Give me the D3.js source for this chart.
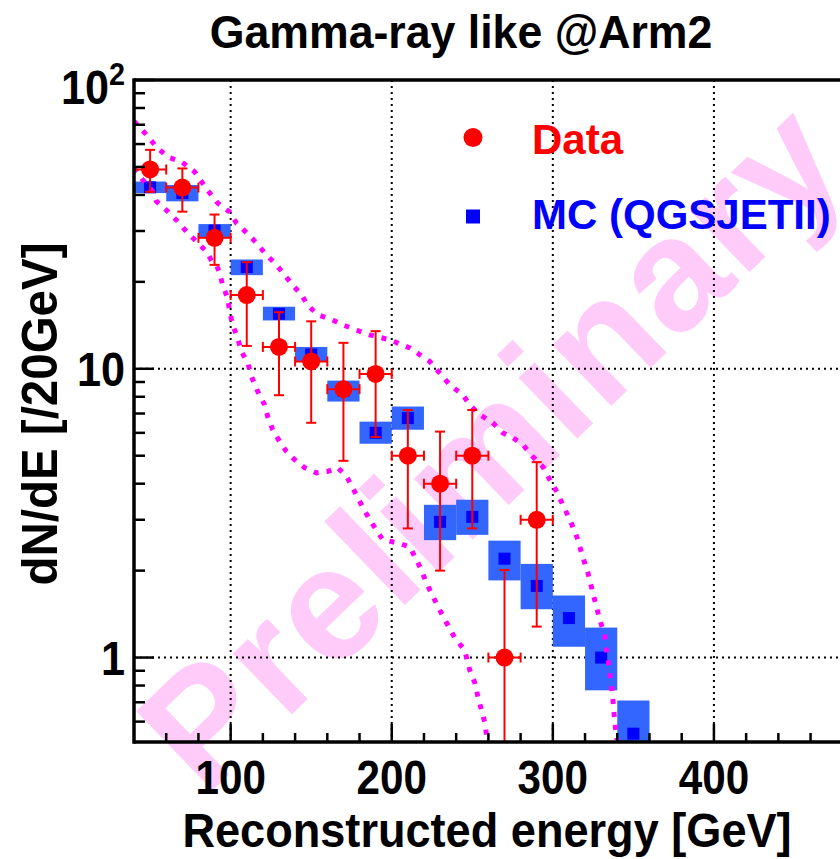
<!DOCTYPE html>
<html>
<head>
<meta charset="utf-8">
<script src="https://cdn.jsdelivr.net/npm/d3@7"></script>
<style>
html,body{margin:0;padding:0;background:#fff;}
text{font-family:"Liberation Sans",Arial,Helvetica,sans-serif;font-weight:bold;}
</style>
</head>
<body>
<script>
// ---------- data ----------
const dataE   = [50,70,90,110,130,150,170,190,210,230,250,270,290];
const dataVal = [49,42.4,28.4,18.0,11.9,10.6,8.5,9.6,5.0,4.0,5.0,1.0,3.0];
const dataHi  = [57.3,49.4,34.2,23.4,15.7,14.6,12.3,13.5,7.2,6.06,7.2,2.01,4.75];
const dataLo  = [41,35,22.9,12.0,8.1,6.5,4.8,5.8,2.8,2.0,2.8,0.3,1.28];

const mcE   = [50,70,90,110,130,150,170,190,210,230,250,270,290,310,330,350];
const mcVal = [42.5,40.6,30.1,22.5,15.5,11.2,8.4,6.0,6.75,2.95,3.07,2.2,1.77,1.37,1.0,0.545];
const mcHi  = [44.5,43.3,31.7,23.9,16.4,11.9,9.1,6.56,7.4,3.38,3.52,2.54,2.11,1.64,1.27,0.71];
const mcLo  = [40.6,38.0,28.6,21.1,14.7,10.6,7.7,5.5,6.15,2.55,2.66,1.85,1.47,1.09,0.77,0.42];

const upperE = [40,46.6,53.9,60.9,69.6,77.6,85.7,91.9,99.4,103.5,109.8,116.0,122.2,128.4,132.3,138.5,144.1,147.8,154.0,162.7,169.6,178.3,186.3,198.8,211.2,223.6,236.0,244.1,248.4,254.7,262.7,268.9,275.2,281.4,287.6,293.8,298.1,302.5,306.2,310.6,314.9,318.6,321.7,324.8,328.0,332.3,333.5,335.4,337.3,338.5,339.8];
const upperV = [72,65.7,58.7,54.1,52.1,48.1,41.5,37.5,34.9,32.0,29.6,27.3,24.8,22.9,21.5,19.5,18.0,16.6,15.4,14.8,14.2,13.6,13.1,12.6,11.8,10.6,8.8,8.13,7.5,6.93,6.5,6.0,5.77,5.46,4.96,4.58,4.13,3.75,3.38,3.0,2.62,2.23,1.97,1.68,1.43,1.18,1.04,0.885,0.714,0.594,0.519];

const lowerE = [40,45.3,51.6,53.9,60.9,67.1,72.5,78.7,84.9,88.8,91.1,93.2,95.0,98.1,99.4,101.2,104.3,106.6,110.6,112.9,116.8,121.1,123.0,126.1,130.4,134.6,139.8,146.0,153.2,160.2,166.5,171.9,175.8,178.9,186.3,194.4,202.9,211.2,215.3,218.4,221.6,225.5,229.8,234.0,239.1,245.3,248.4,251.6,253.4,255.7,257.8,258.8];
const lowerV = [49.6,45.2,41.1,38.0,35.1,32.4,29.9,27.6,25.5,23.3,22.9,21.5,19.5,17.6,15.8,14.2,12.8,11.5,10.5,9.4,8.35,7.5,6.84,6.15,5.6,5.17,4.84,4.54,4.36,4.41,4.54,4.24,3.87,3.57,3.0,2.56,2.50,2.42,2.18,2.01,1.81,1.63,1.46,1.32,1.17,1.06,0.906,0.817,0.733,0.659,0.594,0.54];

const xTicks = [100,200,300,400];
const yTicks = [1,10,100];
const titleText = "Gamma-ray like @Arm2";
const xTitle = "Reconstructed energy [GeV]";
const yTitle = "dN/dE [/20GeV]";
const legendLabels = ["Data","MC (QGSJETII)"];
const binHalf = 10;

// ---------- layout ----------
const W = 840, H = 859;
const L = 134, R = 875, T = 80, B = 742;
const svg = d3.select("body").append("svg").attr("width",W).attr("height",H);

const x = d3.scaleLinear().domain([40,500]).range([L,R]);
const y = d3.scaleLog().domain([0.51,100]).range([B,T]);

svg.append("defs").append("clipPath").attr("id","plotclip")
  .append("rect").attr("x",L).attr("y",T).attr("width",R-L).attr("height",B-T);

// watermark
svg.append("text")
  .attr("transform","translate(205,798) rotate(-44)")
  .attr("font-size",160).attr("fill","#ffccfa")
  .attr("textLength",900).attr("lengthAdjust","spacing")
  .text("Preliminary");

const plot = svg.append("g").attr("clip-path","url(#plotclip)");

// grid
plot.selectAll(".gx").data(xTicks).join("line")
  .attr("x1",d=>x(d)).attr("x2",d=>x(d)).attr("y1",T).attr("y2",B)
  .attr("stroke","#000").attr("stroke-width",2).attr("stroke-dasharray","2,4");
plot.selectAll(".gy").data(yTicks.filter(d=>d<100)).join("line")
  .attr("x1",L).attr("x2",R).attr("y1",d=>y(d)).attr("y2",d=>y(d))
  .attr("stroke","#000").attr("stroke-width",2).attr("stroke-dasharray","2,4");

// MC boxes
const mc = mcE.map((e,i)=>({e,v:mcVal[i],hi:mcHi[i],lo:mcLo[i]}));
plot.selectAll(".mcbox").data(mc).join("rect")
  .attr("x",d=>x(d.e-binHalf)).attr("width",d=>x(d.e+binHalf)-x(d.e-binHalf))
  .attr("y",d=>y(d.hi)).attr("height",d=>y(d.lo)-y(d.hi))
  .attr("fill","#3366ff");
plot.selectAll(".mcm").data(mc).join("rect")
  .attr("x",d=>x(d.e)-6).attr("y",d=>y(d.v)-6).attr("width",12).attr("height",12)
  .attr("fill","#0000ff");

// envelope curves
const line = d3.line().x(d=>x(d[0])).y(d=>y(d[1]));
[[upperE,upperV],[lowerE,lowerV]].forEach(([E,V])=>{
  plot.append("path").datum(E.map((e,i)=>[e,V[i]]))
    .attr("d",line).attr("fill","none").attr("stroke","#ff00ff")
    .attr("stroke-width",5).attr("stroke-dasharray","5,8");
});

// data
const dat = dataE.map((e,i)=>({e,v:dataVal[i],hi:dataHi[i],lo:dataLo[i]}));
const dg = plot.selectAll(".dp").data(dat).join("g").attr("stroke","#ff0000").attr("stroke-width",2);
dg.append("line").attr("x1",d=>x(d.e)).attr("x2",d=>x(d.e)).attr("y1",d=>y(d.hi)).attr("y2",d=>y(Math.max(d.lo,0.4)));
dg.append("line").attr("x1",d=>x(d.e-binHalf)).attr("x2",d=>x(d.e+binHalf)).attr("y1",d=>y(d.v)).attr("y2",d=>y(d.v));
dg.append("line").attr("x1",d=>x(d.e)-5).attr("x2",d=>x(d.e)+5).attr("y1",d=>y(d.hi)).attr("y2",d=>y(d.hi));
dg.append("line").attr("x1",d=>x(d.e)-5).attr("x2",d=>x(d.e)+5).attr("y1",d=>y(Math.max(d.lo,0.4))).attr("y2",d=>y(Math.max(d.lo,0.4)));
dg.append("line").attr("x1",d=>x(d.e-binHalf)).attr("x2",d=>x(d.e-binHalf)).attr("y1",d=>y(d.v)-5).attr("y2",d=>y(d.v)+5);
dg.append("line").attr("x1",d=>x(d.e+binHalf)).attr("x2",d=>x(d.e+binHalf)).attr("y1",d=>y(d.v)-5).attr("y2",d=>y(d.v)+5);
dg.append("circle").attr("cx",d=>x(d.e)).attr("cy",d=>y(d.v)).attr("r",9).attr("fill","#ff0000").attr("stroke","none");

// axes ticks
const xMinor = d3.range(60,500,20).filter(v=>v%100!==0);
const xa = svg.append("g").attr("stroke","#000");
xa.selectAll(".xt").data(xTicks.concat([500])).join("line")
  .attr("x1",d=>x(d)).attr("x2",d=>x(d)).attr("y1",B).attr("y2",B-18).attr("stroke-width",2.5);
xa.selectAll(".xm").data(xMinor).join("line")
  .attr("x1",d=>x(d)).attr("x2",d=>x(d)).attr("y1",B).attr("y2",B-9).attr("stroke-width",2.5);
const yMinor = [];
[0.1,1,10].forEach(dec=>{for(let k=2;k<=9;k++){const v=k*dec; if(v>=0.51&&v<=100) yMinor.push(v);}});
const ya = svg.append("g").attr("stroke","#000");
ya.selectAll(".yt").data(yTicks).join("line")
  .attr("x1",L).attr("x2",L+20).attr("y1",d=>y(d)).attr("y2",d=>y(d)).attr("stroke-width",2.5);
ya.selectAll(".ym").data(yMinor).join("line")
  .attr("x1",L).attr("x2",L+11).attr("y1",d=>y(d)).attr("y2",d=>y(d)).attr("stroke-width",2.5);

// frame
svg.append("line").attr("x1",L).attr("x2",W).attr("y1",T).attr("y2",T).attr("stroke","#000").attr("stroke-width",3.5);
svg.append("line").attr("x1",L).attr("x2",W).attr("y1",B).attr("y2",B).attr("stroke","#000").attr("stroke-width",3.5);
svg.append("line").attr("x1",L).attr("x2",L).attr("y1",T-1.75).attr("y2",B+1.75).attr("stroke","#000").attr("stroke-width",3.5);

// tick labels (slightly condensed glyphs like the original)
svg.selectAll(".xl").data(xTicks).join("text")
  .attr("transform",d=>`translate(${x(d)},794) scale(0.88,1)`)
  .attr("text-anchor","middle").attr("font-size",48).text(d=>d);
const ylab = svg.selectAll(".yl").data(yTicks).join("text")
  .attr("transform",d=>`translate(125,${d===100?104:y(d)+17}) scale(0.9,1)`)
  .attr("text-anchor","end").attr("font-size",48);
ylab.each(function(d){
  const t = d3.select(this);
  if(d===100){ t.append("tspan").text("10"); t.append("tspan").attr("dy",-19).attr("font-size",32).text("2"); }
  else t.text(d);
});

// titles
svg.append("text").attr("transform","translate(461,48) scale(0.95,1)").attr("text-anchor","middle").attr("font-size",47).text(titleText);
svg.append("text").attr("transform","translate(487,847) scale(0.94,1)").attr("text-anchor","middle").attr("font-size",48).text(xTitle);
svg.append("text").attr("transform","translate(57,414) rotate(-90) scale(0.95,1)").attr("text-anchor","middle").attr("font-size",50).text(yTitle);

// legend
svg.append("circle").attr("cx",473).attr("cy",137.5).attr("r",9.5).attr("fill","#ff0000");
svg.append("rect").attr("x",466).attr("y",209.5).attr("width",14).attr("height",14).attr("fill","#0000ff");
svg.append("text").attr("x",532).attr("y",154).attr("font-size",42).attr("fill","#ff0000").text(legendLabels[0]);
svg.append("text").attr("x",532).attr("y",229).attr("font-size",42).attr("fill","#0000ff").text(legendLabels[1]);
</script>
</body>
</html>
